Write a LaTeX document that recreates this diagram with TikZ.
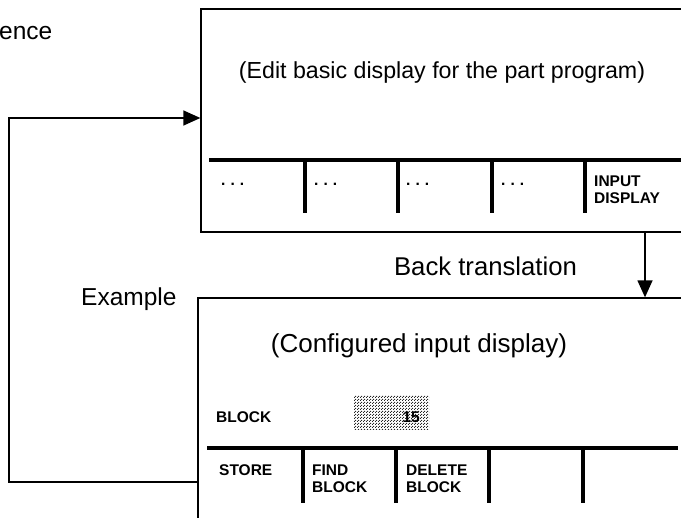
\documentclass[tikz,border=0pt]{standalone}
\usepackage{fontspec}
\setmainfont{Liberation Sans}
\usetikzlibrary{arrows.meta,patterns}
\newcommand\twolines[2]{\vtop{\hbox{#1}\hbox{#2}}}
\pgfdeclarepatternformonly{stipple}{\pgfqpoint{0pt}{0pt}}{\pgfqpoint{3pt}{3pt}}{\pgfqpoint{3pt}{3pt}}{%
  \pgfpathrectangle{\pgfqpoint{0pt}{0pt}}{\pgfqpoint{1.3pt}{1.3pt}}%
  \pgfpathrectangle{\pgfqpoint{1.5pt}{1.5pt}}{\pgfqpoint{1.3pt}{1.3pt}}%
  \pgfusepath{fill}}
\begin{document}
\begin{tikzpicture}[x=1pt,y=-1pt,
  box/.style={draw, line width=1.3pt, inner sep=0pt},
  bar/.style={line width=3.6pt},
  sep/.style={line width=4pt},
  conn/.style={line width=1.4pt},
  tip/.style={-{Triangle[length=17pt,width=15pt]}},
  big/.style={inner sep=0pt, anchor=base},
  key/.style={font=\fontsize{15.5}{17}\selectfont\bfseries, inner sep=0pt, anchor=base west},
]
\useasboundingbox (0,0) rectangle (681,518);
\clip (0,0) rectangle (681,518);

% screens
\node (top) [box, minimum width=489pt, minimum height=223pt] at (445.5,120.5) {};
\node (bot) [box, minimum width=492pt, minimum height=232pt] at (444,414) {};

% texts
\node (t1) [big, font=\fontsize{23.2}{27}\selectfont] at (442,79) {(Edit basic display for the part program)};
\node (t2) [big, font=\fontsize{25.7}{30}\selectfont] at (485.5,275.5) {Back translation};
\node (t3) [big, font=\fontsize{26}{30}\selectfont] at (419,353) {(Configured input display)};
\node (t4) [inner sep=0pt, anchor=base west, font=\fontsize{24.5}{28}\selectfont] at (-1,40) {ence};
\node (t5) [inner sep=0pt, anchor=base west, font=\fontsize{24.5}{28}\selectfont] at (81,306) {Example};

% softkey bar, upper screen
\draw[bar] (209,160) -- (690,160);
\foreach \x in {305,398,492,585} \draw[sep] (\x,160) -- (\x,213);
\node (d1) [key] at (221,186) {.\hspace{5pt}.\hspace{5pt}.};
\node (d2) [key] at (314,186) {.\hspace{5pt}.\hspace{5pt}.};
\node (d3) [key] at (406,186) {.\hspace{5pt}.\hspace{5pt}.};
\node (d4) [key] at (501,186) {.\hspace{5pt}.\hspace{5pt}.};
\node (k0) [key] at (594,187) {\twolines{INPUT}{DISPLAY}};

% input field
\node (val) [pattern=stipple, pattern color=black!85, minimum width=75pt, minimum height=34pt, inner sep=0pt] at (391.5,413) {};
\node (lbl) [key] at (216,423) {BLOCK};
\node (num) [key, anchor=base east] at (420,423) {15};

% softkey bar, lower screen
\draw[bar] (207,448) -- (678,448);
\foreach \x in {303,396,489,583} \draw[sep] (\x,448) -- (\x,503);
\node (k1) [key] at (219,476) {STORE};
\node (k2) [key] at (312,476) {\twolines{FIND}{BLOCK}};
\node (k3) [key] at (406,476) {\twolines{DELETE}{BLOCK}};

% connectors
\coordinate (c1) at (9,482);
\coordinate (c2) at (9,118);
\coordinate (ax) at (645,0);
\draw[conn,tip] (bot.west |- c1) -- (c1) -- (c2) -- (top.west |- c2);
\draw[conn,tip] (top.south -| ax) -- (bot.north -| ax);
\end{tikzpicture}
\end{document}
